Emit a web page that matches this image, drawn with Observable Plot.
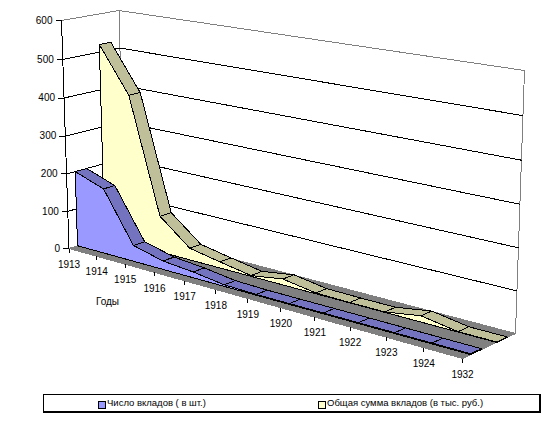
<!DOCTYPE html>
<html>
<head>
<meta charset="utf-8">
<script src="https://cdn.jsdelivr.net/npm/d3@7"></script>
<script src="https://cdn.jsdelivr.net/npm/@observablehq/plot@0.6"></script>
<style>
html,body{margin:0;padding:0;background:#fff;}
svg{display:block;}
#legend{position:absolute;left:43px;top:394px;width:495px;height:16px;border:1px solid #000;border-right-width:2px;border-bottom-width:2px;box-sizing:content-box;
 font:9.5px "Liberation Sans",Arial,sans-serif;color:#000;}
#legend span{position:absolute;top:2px;white-space:pre;}
#legend i{position:absolute;top:6px;width:6px;height:6px;border:1px solid #000;}
</style>
</head>
<body>
<div id="chart"></div>
<div id="legend"></div>
<script>
const years = ["1913","1914","1915","1916","1917","1918","1919","1920","1921","1922","1923","1924","1932"];
const seriesDeposits = [200,172,42,22,15,4,2,2,2,2,2,2,2];
const seriesSums = [520,400,96,31,16,2,15,2,1,1,15,1,1];
const yTicks = [0,100,200,300,400,500,600];
const legendNames = ["Число вкладов ( в шт.)","Общая сумма вкладов (в тыс. руб.)"];
const colors = {blue:"#9999FF",blueTop:"#7373BF",yellow:"#FFFFCC",yellowTop:"#BFBF99",floor:"#808080",wall:"#808080"};

// camera: screen position and perspective weight of the plot box corners
const box = {
  F0:[68.5,248,1.2], F1:[462,358,1.0], B0:[124,230,1.24], B1:[515,333,1.035],
  F0t:[61,20,1.165], F1t:[470,86,0.97], B0t:[118.5,10,1.205], B1t:[524,70,1.0]
};
const hMax = 600;
function project(u,v,h){
  const t=h/hMax, c=[[box.F0,(1-u)*(1-v)*(1-t)],[box.F1,u*(1-v)*(1-t)],[box.B0,(1-u)*v*(1-t)],[box.B1,u*v*(1-t)],
    [box.F0t,(1-u)*(1-v)*t],[box.F1t,u*(1-v)*t],[box.B0t,(1-u)*v*t],[box.B1t,u*v*t]];
  let sx=0,sy=0,sw=0;
  for(const [p,b] of c){const w=b*p[2];sx+=w*p[0];sy+=w*p[1];sw+=w;}
  return {x:sx/sw,y:sy/sw};
}
const U = i => i/(years.length-1);
let fid=0;
function poly(pts){const id=fid++;return [...pts,pts[0]].map(p=>({...p,id}));}
function faces(values,v0,v1){
  const front=[],tops=[];
  values.forEach((val,i)=>front.push(project(U(i),v0,val)));
  for(let i=values.length-1;i>=0;i--)front.push(project(U(i),v0,0));
  for(let i=0;i<values.length-1;i++){
    tops.push(...poly([project(U(i),v0,values[i]),project(U(i+1),v0,values[i+1]),project(U(i+1),v1,values[i+1]),project(U(i),v1,values[i])]));
  }
  const n=values.length-1;
  const cap=poly([project(1,v0,values[n]),project(1,v1,values[n]),project(1,v1,0),project(1,v0,0)]);
  return {front:poly(front),tops,cap};
}
const blue=faces(seriesDeposits,0.15,0.35);
const yellow=faces(seriesSums,0.635,0.84);
const floor=poly([project(0,0,0),project(1,0,0),project(1,1,0),project(0,1,0)]);

const gridRows=yTicks.flatMap(h=>{
  const id=fid++;
  return (h===hMax?[]:[project(0,0,h),project(0,1,h),project(1,1,h)]).map(p=>({...p,id}));
});
const wallEdges=[
  ...[project(0,0,hMax),project(0,1,hMax),project(1,1,hMax),project(1,1,0)].map(p=>({...p,id:"top"})),
  ...[project(0,1,hMax),project(0,1,0)].map(p=>({...p,id:"back"}))
];
const axisRows=[project(0,0,hMax),project(0,0,0)];
const tickRows=yTicks.map(h=>({...project(0,0,h),h}));
const catRows=years.map((year,i)=>({...project(U(i),0,0),year}));

const crisp={shapeRendering:"crispEdges"};
function faceMark(rows,fill){return Plot.line(rows,{x:"x",y:"y",z:"id",fill,stroke:"#000",strokeWidth:1,strokeLinejoin:"miter",...crisp});}
const W=560,H=394;
const plot=Plot.plot({
  width:W,height:H,margin:0,
  x:{domain:[0,W],range:[0,W],axis:null},
  y:{domain:[0,H],range:[0,H],axis:null},
  style:{background:"#fff",fontFamily:'"Liberation Sans",Arial,sans-serif'},
  marks:[
    Plot.line(wallEdges,{x:"x",y:"y",z:"id",stroke:colors.wall,strokeWidth:1,...crisp}),
    Plot.line(gridRows,{x:"x",y:"y",z:"id",stroke:"#000",strokeWidth:1,...crisp}),
    Plot.line(floor,{x:"x",y:"y",z:"id",fill:colors.floor,stroke:colors.floor,strokeWidth:1,...crisp}),
    faceMark(yellow.cap,colors.yellowTop),
    faceMark(yellow.tops,colors.yellowTop),
    faceMark(yellow.front,colors.yellow),
    faceMark(blue.cap,colors.blueTop),
    faceMark(blue.tops,colors.blueTop),
    faceMark(blue.front,colors.blue),
    Plot.line(axisRows,{x:"x",y:"y",stroke:"#000",strokeWidth:1,...crisp}),
    Plot.link(catRows,{x1:"x",x2:"x",y1:"y",y2:d=>d.y+4,stroke:"#000",...crisp}),
    Plot.link(tickRows,{x1:d=>d.x-6,x2:"x",y1:"y",y2:"y",stroke:"#000",...crisp}),
    Plot.text(tickRows,{x:d=>d.x-9,y:"y",text:d=>String(d.h),textAnchor:"end",fontSize:10,fill:"#000"}),
    Plot.text(catRows,{x:"x",y:d=>d.y+16,text:"year",fontSize:10,fill:"#000"}),
    Plot.text(["Годы"],{x:()=>107,y:()=>301,text:d=>d,fontSize:10,fill:"#000"})
  ]
});
document.getElementById("chart").appendChild(plot);

const legend=document.getElementById("legend");
[[54,63,colors.blue],[274,283,colors.yellow]].forEach(([sw,tx,col],i)=>{
  const s=document.createElement("i");s.style.left=sw+"px";s.style.background=col;legend.appendChild(s);
  const t=document.createElement("span");t.style.left=tx+"px";t.textContent=legendNames[i];legend.appendChild(t);
});
</script>
</body>
</html>
